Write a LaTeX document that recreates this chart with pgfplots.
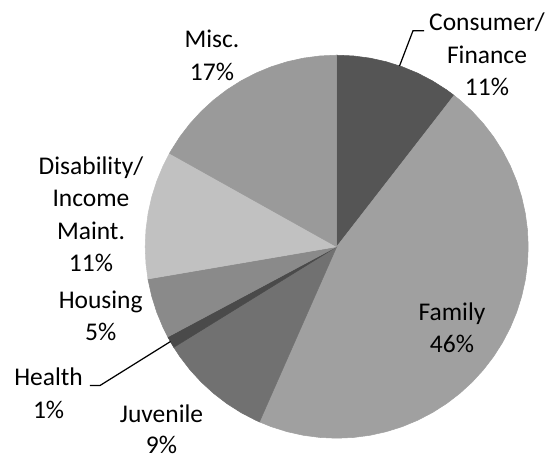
\documentclass[border=0pt]{standalone}
\usepackage{pgfplots}
\pgfplotsset{compat=1.18}
\usepackage{fontspec}
\setmainfont{Carlito}
\definecolor{cCons}{HTML}{555555}
\definecolor{cFam}{HTML}{A0A0A0}
\definecolor{cJuv}{HTML}{717171}
\definecolor{cHea}{HTML}{4A4A4A}
\definecolor{cHou}{HTML}{8A8A8A}
\definecolor{cDis}{HTML}{C1C1C1}
\definecolor{cMis}{HTML}{9A9A9A}
% Shares (percent of total), clockwise from 12 o'clock:
% Consumer/Finance 10.5, Family 46.1, Juvenile 9.6, Health 1.0,
% Housing 5.1, Disability/Income Maint. 10.8, Misc. 16.9
% Boundary angles below (math convention, degrees) = 90 - 3.6 * cumulative share
\begin{document}
\begin{tikzpicture}[font=\fontsize{14.5}{18}\selectfont]
\begin{axis}[scale only axis, width=11cm, height=9.16cm,
  xmin=-1.7582, xmax=1.1138, ymin=-1.1034, ymax=1.2883,
  hide axis, clip=false]
\addplot[data cs=polar, fill=cCons, draw=cCons, line width=0.3pt] coordinates {
 (0,0) (90,1) (85,1) (80,1) (75,1) (70,1) (65,1) (60,1) (55,1) (52.2,1)} -- cycle;
\addplot[data cs=polar, fill=cFam, draw=cFam, line width=0.3pt] coordinates {
 (0,0) (52.2,1) (50,1) (45,1) (40,1) (35,1) (30,1) (25,1) (20,1) (15,1) (10,1) (5,1) (0,1)
 (-5,1) (-10,1) (-15,1) (-20,1) (-25,1) (-30,1) (-35,1) (-40,1) (-45,1) (-50,1) (-55,1)
 (-60,1) (-65,1) (-70,1) (-75,1) (-80,1) (-85,1) (-90,1) (-95,1) (-100,1) (-105,1)
 (-110,1) (-113.8,1)} -- cycle;
\addplot[data cs=polar, fill=cJuv, draw=cJuv, line width=0.3pt] coordinates {
 (0,0) (-113.8,1) (-115,1) (-120,1) (-125,1) (-130,1) (-135,1) (-140,1) (-145,1) (-148.3,1)} -- cycle;
\addplot[data cs=polar, fill=cHea, draw=cHea, line width=0.3pt] coordinates {
 (0,0) (-148.3,1) (-150,1) (-151.9,1)} -- cycle;
\addplot[data cs=polar, fill=cHou, draw=cHou, line width=0.3pt] coordinates {
 (0,0) (-151.9,1) (-155,1) (-160,1) (-165,1) (-170,1) (-170.3,1)} -- cycle;
\addplot[data cs=polar, fill=cDis, draw=cDis, line width=0.3pt] coordinates {
 (0,0) (-170.3,1) (-175,1) (-180,1) (-185,1) (-190,1) (-195,1) (-200,1) (-205,1) (-209.2,1)} -- cycle;
\addplot[data cs=polar, fill=cMis, draw=cMis, line width=0.3pt] coordinates {
 (0,0) (-209.2,1) (-210,1) (-215,1) (-220,1) (-225,1) (-230,1) (-235,1) (-240,1) (-245,1)
 (-250,1) (-255,1) (-260,1) (-265,1) (-270,1)} -- cycle;
\coordinate (SW) at (rel axis cs:0,0);
\coordinate (NE) at (rel axis cs:1,1);
\end{axis}
\begin{axis}[scale only axis, width=11cm, height=9.16cm,
  xmin=0, xmax=550, ymin=0, ymax=458, y dir=reverse,
  hide axis, clip=false]
\addplot[black, line width=0.7pt] coordinates {(424,30.7) (413,30.7) (399.5,66)};
\addplot[black, line width=0.7pt] coordinates {(90,385.5) (100,385.5) (170.5,341.5)};
\node[anchor=base] at (axis cs:487,30.5) {Consumer/};
\node[anchor=base] at (axis cs:487,63) {Finance};
\node[anchor=base] at (axis cs:487,95) {11\%};
\node[anchor=base] at (axis cs:212,47.3) {Misc.};
\node[anchor=base] at (axis cs:212,80) {17\%};
\node[anchor=base] at (axis cs:91,174.3) {Disability/};
\node[anchor=base] at (axis cs:91,206.7) {Income};
\node[anchor=base] at (axis cs:91,239.5) {Maint.};
\node[anchor=base] at (axis cs:91,271.5) {11\%};
\node[anchor=base] at (axis cs:100.7,308) {Housing};
\node[anchor=base] at (axis cs:100.7,340) {5\%};
\node[anchor=base] at (axis cs:48.6,385.7) {Health};
\node[anchor=base] at (axis cs:48.6,418) {1\%};
\node[anchor=base] at (axis cs:161.5,422.7) {Juvenile};
\node[anchor=base] at (axis cs:161.5,453) {9\%};
\node[anchor=base] at (axis cs:452,320.7) {Family};
\node[anchor=base] at (axis cs:452,352.7) {46\%};
\end{axis}
\pgfresetboundingbox
\path (SW) rectangle (NE);
\end{tikzpicture}
\end{document}
